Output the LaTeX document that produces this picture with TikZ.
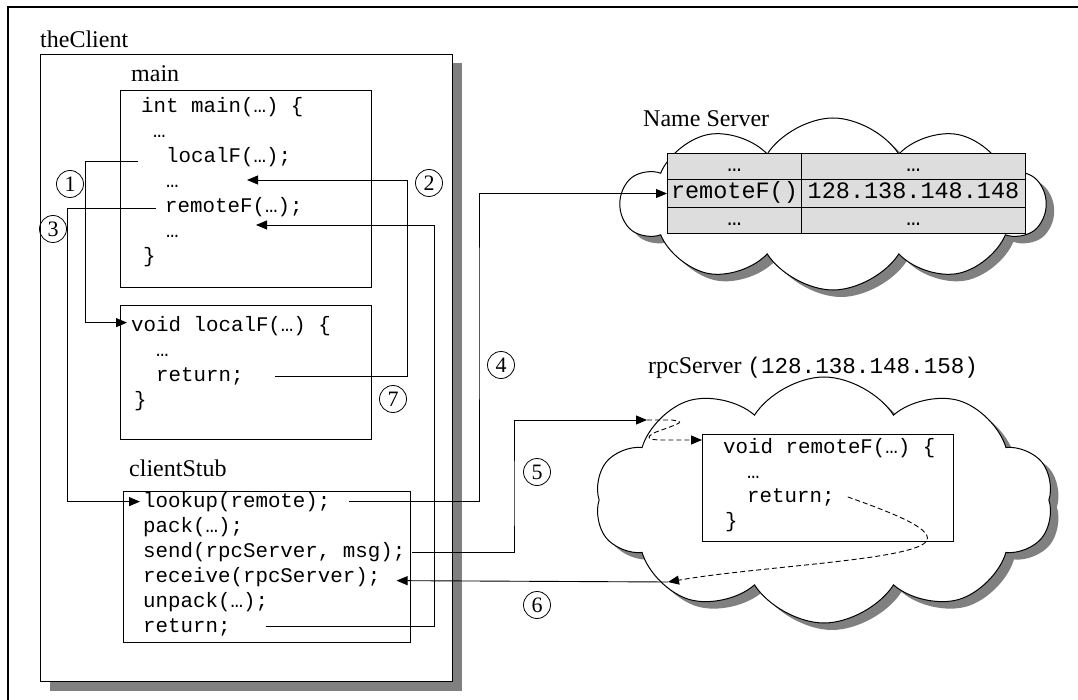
\documentclass[tikz,border=0pt]{standalone}
\usepackage{fontspec}
\setmainfont{Liberation Serif}
\setmonofont{Liberation Mono}
\usetikzlibrary{arrows.meta,shapes.symbols,shadows}

\tikzset{
  code/.style={font=\fontsize{20.8}{24}\ttfamily, anchor=base west, inner sep=0pt},
  lbl/.style={font=\fontsize{24}{28}\selectfont, anchor=base west, inner sep=0pt},
  codebox/.style={draw, line width=1pt, fill=white, anchor=north west, inner sep=0pt},
  num/.style={circle, draw, line width=0.8pt, minimum size=27pt, inner sep=0pt,
              font=\fontsize{22}{24}\selectfont},
  link/.style={line width=0.9pt},
  arr/.style={link, -{Triangle[length=11pt,width=9pt]}},
  darr/.style={arr, dash pattern=on 5pt off 3pt},
  pshadow/.style={drop shadow={shadow xshift=8pt, shadow yshift=-7pt, fill=black!50, opacity=1}},
  server/.style={cloud, cloud puffs=10, cloud puff arc=115, cloud ignores aspect,
                 draw, line width=1pt, fill=white, pshadow},
  cell/.style={draw, line width=1pt, fill={rgb,255:red,221;green,221;blue,221},
               anchor=north west, inner sep=0pt, text height=16pt, text depth=5pt,
               font=\fontsize{23.5}{26}\ttfamily},
}

\begin{document}
\begin{tikzpicture}[x=1pt, y=-1pt]
\useasboundingbox (0,0) rectangle (1078,700);

% page frame (top and left edges)
\draw[line width=1.6pt] (1078,7) -- (8,7) -- (8,700);

% client process
\node[lbl] (clientlbl) at (40,48) {theClient};
\node[draw, line width=1pt, fill=white, anchor=north west, inner sep=0pt,
      minimum width=412pt, minimum height=627pt,
      drop shadow={shadow xshift=9pt, shadow yshift=-9pt, fill=black!50, opacity=1}]
      (client) at (40,54) {};

% servers
\node[server, minimum width=423pt, minimum height=172pt] (ns) at (833,204) {};
\node[server, minimum width=458pt, minimum height=246pt] (rpc) at (824,500) {};

% name server table
\node[cell, minimum width=134pt, minimum height=26pt] (a1) at (667,153) {…};
\node[cell, minimum width=224pt, minimum height=26pt] (b1) at (801,153) {…};
\node[cell, minimum width=134pt, minimum height=28pt] (a2) at (667,179) {remoteF()};
\node[cell, minimum width=224pt, minimum height=28pt] (b2) at (801,179) {128.138.148.148};
\node[cell, minimum width=134pt, minimum height=26pt] (a3) at (667,207) {…};
\node[cell, minimum width=224pt, minimum height=26pt] (b3) at (801,207) {…};

\node[lbl, fill=white, inner sep=1pt] (nslbl) at (642,127) {Name Server};
\node[lbl] (rpclbl) at (648,373) {rpcServer {\fontsize{22.6}{26}\ttfamily (128.138.148.158)}};

% main
\node[lbl] (mainlbl) at (131,82) {main};
\node[codebox, minimum width=251pt, minimum height=197pt] (mainbox) at (120,90) {};
\node[code] (mline) at (141,113) {int main(…) \{};
\node[code] (mdotsa) at (153,138) {…};
\node[code] (mlocal) at (166,163) {localF(…);};
\node[code] (mdotsb) at (166,188) {…};
\node[code] (mremote) at (165,213) {remoteF(…);};
\node[code] (mdotsc) at (166,238) {…};
\node[code] (mclose) at (143,263) {\}};

% localF
\node[codebox, minimum width=251pt, minimum height=134pt] (localbox) at (120,305) {};
\node[code] (lvoid) at (131,331) {void localF(…) \{};
\node[code] (ldots) at (156,356) {…};
\node[code] (lret) at (156,381) {return;};
\node[code] (lclose) at (134,406) {\}};

% clientStub
\node[lbl] (stublbl) at (129,476) {clientStub};
\node[codebox, minimum width=287pt, minimum height=151pt] (stubbox) at (123,491) {};
\node[code] (slookup) at (143,507) {lookup(remote);};
\node[code] (spack) at (143,532) {pack(…);};
\node[code] (ssend) at (143,557) {send(rpcServer, msg);};
\node[code] (srecv) at (143,582) {receive(rpcServer);};
\node[code] (sunpack) at (143,607) {unpack(…);};
\node[code] (sret) at (143,632) {return;};

% remoteF on the server
\node[codebox, minimum width=251pt, minimum height=107pt] (rbox) at (702,434) {};
\node[code] (rvoid) at (723,453) {void remoteF(…) \{};
\node[code] (rdots) at (747,478) {…};
\node[code] (rret) at (747,502) {return;};
\node[code] (rclose) at (725,527) {\}};

% step numbers
\node[num] (n1) at (70,184) {1};
\node[num] (n2) at (429,183) {2};
\node[num] (n3) at (53,229) {3};
\node[num] (n4) at (501,365) {4};
\node[num] (n5) at (537,472) {5};
\node[num] (n6) at (537,605) {6};
\node[num] (n7) at (393,399) {7};

% bends and free ends of the connectors
\coordinate (t2) at (247,180);
\coordinate (t3) at (256,225);
\coordinate (k4) at (479,300);
\coordinate (k5) at (514,500);
\coordinate (t5) at (647,420);
\coordinate (t6) at (668,582);

% local call and return
\draw[arr] ([xshift=-28pt,yshift=-4pt]mlocal.west) -- ++(-53,0) |- ([xshift=-4pt,yshift=3pt]lvoid.west);
\draw[arr] ([xshift=31pt,yshift=-1pt]lret.east) -| ([xshift=160pt]t2) -- (t2);

% remote call into the stub and its return
\draw[arr] ([xshift=-9pt,yshift=-1pt]mremote.west) -- ++(-89,0) |- ([xshift=-3pt]slookup.west);
\draw[arr] ([xshift=35pt]sret.east) -| ([xshift=178pt]t3) -- (t3);

% lookup in the name server
\draw[arr] ([xshift=18pt]slookup.east) -| (k4) |- (a2.west);

% send, dispatch, reply, receive
\draw[arr] ([xshift=6pt,yshift=-1pt]ssend.east) -| (k5) |- (t5);
\draw[darr] (t5) -- (672,420) .. controls (684,422) .. (656,432)
            .. controls (643,438) and (650,440) .. (662,440) -- ([yshift=-6pt]rbox.north west);
\draw[darr] ([xshift=13pt]rret.east) .. controls (890,512) and (932,528) .. (927,540)
            .. controls (920,560) and (760,566) .. (t6);
\draw[arr] (t6) -- ([xshift=16pt,yshift=-4pt]srecv.east);

\end{tikzpicture}
\end{document}
